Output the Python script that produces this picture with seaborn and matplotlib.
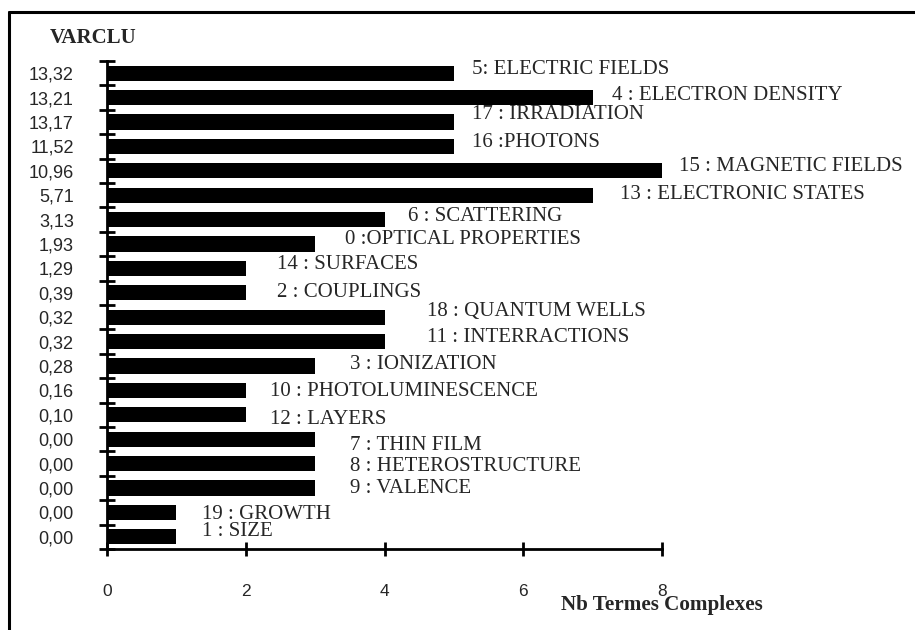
"""VARCLU cluster sizes: horizontal bar chart of complex terms per cluster."""
import matplotlib
matplotlib.use("Agg")
import matplotlib.pyplot as plt
import matplotlib.ticker as mticker
from matplotlib.lines import Line2D
import numpy as np
import pandas as pd
import seaborn as sns

# data, top to bottom
CLUSTER_IDS = ["5", "4", "17", "16", "15", "13", "6", "0", "14", "2",
               "18", "11", "3", "10", "12", "7", "8", "9", "19", "1"]
CLUSTER_NAMES = [
    "5: ELECTRIC FIELDS", "4 : ELECTRON DENSITY", "17 : IRRADIATION",
    "16 :PHOTONS", "15 : MAGNETIC FIELDS", "13 : ELECTRONIC STATES",
    "6 : SCATTERING", "0 :OPTICAL PROPERTIES", "14 : SURFACES",
    "2 : COUPLINGS", "18 : QUANTUM WELLS", "11 : INTERRACTIONS",
    "3 : IONIZATION", "10 : PHOTOLUMINESCENCE", "12 : LAYERS",
    "7 : THIN FILM", "8 : HETEROSTRUCTURE", "9 : VALENCE",
    "19 : GROWTH", "1 : SIZE",
]
VARCLU = ["13,32", "13,21", "13,17", "11,52", "10,96", "5,71", "3,13", "1,93",
          "1,29", "0,39", "0,32", "0,32", "0,28", "0,16", "0,10", "0,00",
          "0,00", "0,00", "0,00", "0,00"]
NB_TERMS = [5, 7, 5, 5, 8, 7, 4, 3, 2, 2, 4, 4, 3, 2, 2, 3, 3, 3, 1, 1]
X_TICKS = [0, 2, 4, 6, 8]

# hand placement of the cluster names (pixels from bar end / bar centre)
LABEL_NUDGE = [(18, -4), (19, -2), (18, -7), (18, -4), (17, -4), (27, -1),
               (23, -3), (30, -4), (31, -4), (31, 0), (42, -6), (42, -4),
               (35, -1), (24, 1), (24, 5), (35, 6), (35, 3), (35, 1),
               (26, 2), (26, -5)]

SERIF = "Liberation Serif"
SANS = "Liberation Sans"

sns.set_style("white")
plt.rcParams["font.family"] = SANS

df = pd.DataFrame({"cluster": CLUSTER_IDS, "name": CLUSTER_NAMES,
                   "nb": NB_TERMS})

fig = plt.figure(figsize=(9.15, 6.3), dpi=100)
ax = fig.add_axes([0.117, 0.1286, 0.6066, 0.7746])

sns.barplot(data=df, x="nb", y="cluster", order=CLUSTER_IDS, orient="h",
            color="black", saturation=1, width=0.62, ax=ax)

for patch in ax.patches:
    patch.set_edgecolor("none")

ax.set_xlim(0, 8)
ax.set_ylim(len(CLUSTER_IDS) - 0.5, -0.5)

for i, (name, nb) in enumerate(zip(CLUSTER_NAMES, NB_TERMS)):
    dx, dy = LABEL_NUDGE[i]
    ax.annotate(name, xy=(nb, i), xytext=(dx, -dy), textcoords="offset pixels",
                ha="left", va="center", fontsize=15, family=SERIF,
                annotation_clip=False)

# axes styling
for side in ["top", "right"]:
    ax.spines[side].set_visible(False)
for side in ["left", "bottom"]:
    ax.spines[side].set_linewidth(2)
    ax.spines[side].set_color("black")

ax.set_yticks(range(len(VARCLU)))
ax.set_yticklabels(VARCLU, fontsize=13, family=SANS)
ax.yaxis.set_minor_locator(mticker.FixedLocator(np.arange(-0.5, len(VARCLU), 1)))
ax.tick_params(axis="y", which="major", length=0, pad=24)
ax.tick_params(axis="y", which="minor", direction="inout", length=11,
               width=2, color="black", left=True)

ax.set_xticks(X_TICKS)
ax.set_xticklabels([str(t) for t in X_TICKS], fontsize=12.5, family=SANS)
ax.tick_params(axis="x", which="major", direction="inout", length=10,
               width=2, color="black", pad=20, bottom=True)

ax.set_xlabel("")
ax.set_ylabel("")

fig.text(50 / 915, 1 - 38 / 630, "VARCLU", fontsize=15, fontweight="bold",
         family=SERIF, ha="left", va="center")
fig.text(561 / 915, 1 - 605 / 630, "Nb Termes Complexes", fontsize=15.2,
         fontweight="bold", family=SERIF, ha="left", va="center")

# outer frame (top and left edges only visible)
fig.add_artist(Line2D([9 / 915, 1.0], [1 - 12 / 630, 1 - 12 / 630],
                      transform=fig.transFigure, color="black", lw=2.2))
fig.add_artist(Line2D([9 / 915, 9 / 915], [1 - 12 / 630, 0.0],
                      transform=fig.transFigure, color="black", lw=2.2))

fig.savefig("out.png", dpi=100)
